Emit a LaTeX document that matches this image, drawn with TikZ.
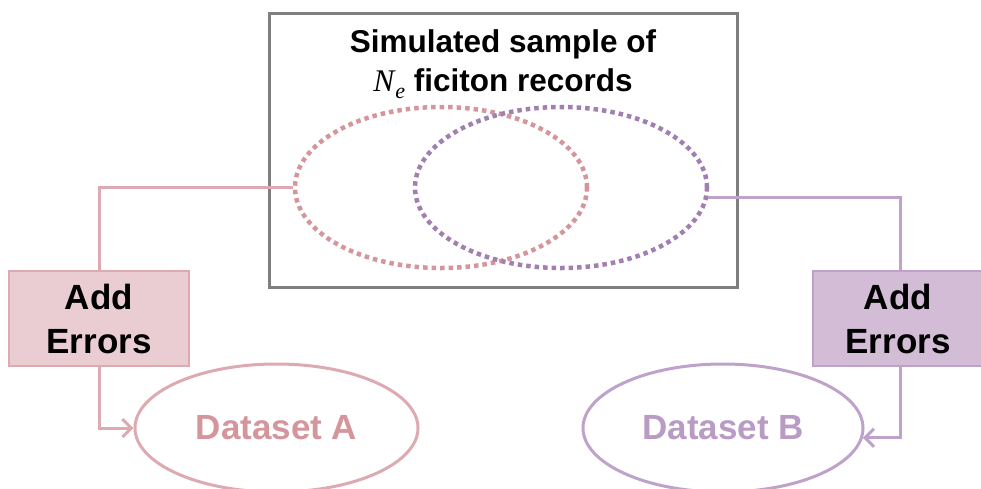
\documentclass[tikz,border=0pt]{standalone}
\usepackage{fontspec}
\setmainfont{Liberation Sans}
\newfontfamily\serifit{Liberation Serif}
\usetikzlibrary{arrows.meta,shapes.geometric}
\definecolor{pinkline}{HTML}{DDAAB1}
\definecolor{pinkfill}{HTML}{E9CDD3}
\definecolor{pinkdot}{HTML}{D4959C}
\definecolor{pinktext}{HTML}{D4959C}
\definecolor{purpline}{HTML}{BFA2CA}
\definecolor{purpfill}{HTML}{D2BCD6}
\definecolor{purpdot}{HTML}{A17FB0}
\definecolor{purptext}{HTML}{B99BC4}
\definecolor{boxgray}{HTML}{7F7F7F}
\tikzset{
  errbox/.style={rectangle, minimum width=180pt, minimum height=95pt, line width=1.2pt, inner sep=0pt,
    align=center, font=\fontsize{35}{44}\selectfont\bfseries},
  dotell/.style={ellipse, minimum width=292pt, minimum height=161pt, line width=4.5pt, dash pattern=on 4.5pt off 4pt, inner sep=0pt},
  dsell/.style={ellipse, minimum height=128pt, line width=3pt, inner sep=0pt, font=\fontsize{35}{42}\selectfont\bfseries},
  conn/.style={line width=3pt},
  tip/.style={-{Straight Barb[length=9pt,width=18pt,line width=3pt]}}
}
\begin{document}
\begin{tikzpicture}[x=1pt,y=-1pt]
\useasboundingbox (0,0) rectangle (981,488);
\node[draw=boxgray, line width=3pt, minimum width=468pt, minimum height=274pt, inner sep=0pt] (sim) at (503,150) {};
\node[align=center, font=\fontsize{31.5}{39}\selectfont\bfseries, anchor=base] (title) at (503,91)
  {Simulated sample of\\ {\serifit\itshape\mdseries N\kern1pt\raisebox{-7pt}{\fontsize{22}{22}\selectfont e}} ficiton records};
\node[dotell, draw=pinkdot] (pe) at (441,187.5) {};
\node[dotell, draw=purpdot] (ue) at (561,187.5) {};
\node[errbox, draw=pinkline, fill=pinkfill] (ea) at (99,318.5) {Add\\Errors};
\node[errbox, draw=purpline, fill=purpfill, minimum width=170pt] (eb) at (898,318.5) {Add\\Errors};
\node[dsell, draw=pinkline, text=pinktext, minimum width=283pt] (da) at (276.5,428) {Dataset A};
\node[dsell, draw=purpline, text=purptext, minimum width=280pt] (db) at (723,428) {Dataset B};
\draw[conn, draw=pinkline] (pe.west) -| (ea.north);
\coordinate (bt) at (900,271);
\coordinate (bb) at (900,366);
\draw[conn, draw=pinkline, tip] (ea.south) |- (da.west);
\draw[conn, draw=purpline] (ue.-4) -| (bt);
\draw[conn, draw=purpline, tip] (bb) |- (db.-4);
\end{tikzpicture}
\end{document}
